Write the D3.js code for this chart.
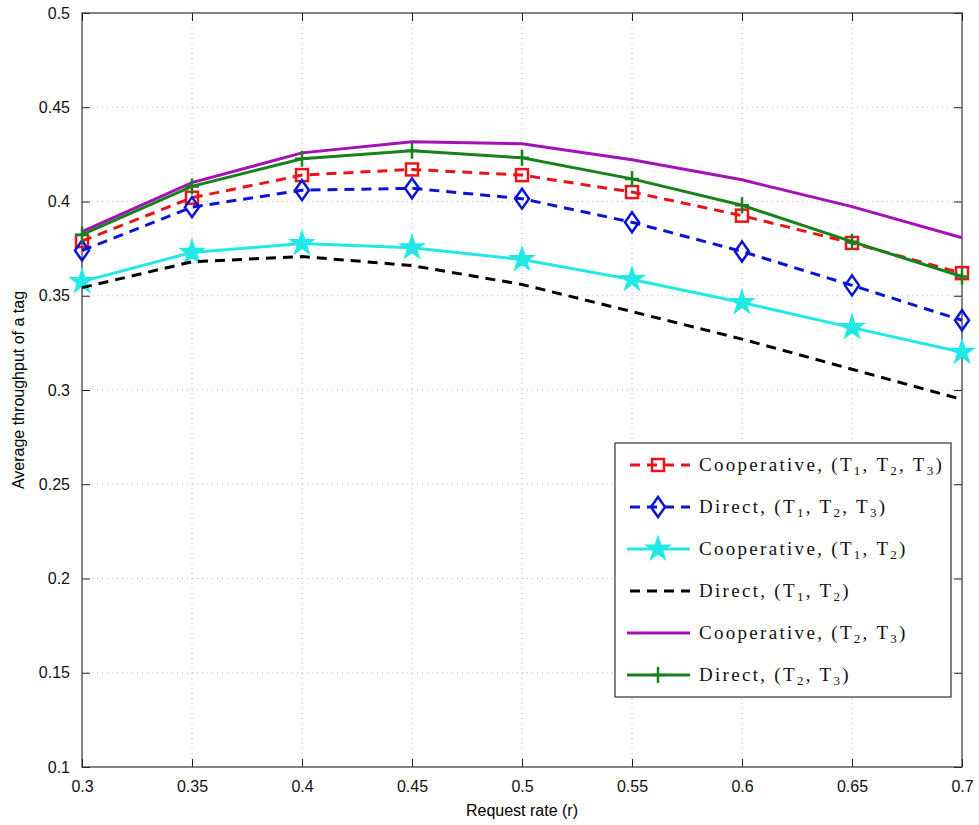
<!DOCTYPE html>
<html>
<head>
<meta charset="utf-8">
<script src="https://cdn.jsdelivr.net/npm/d3@7/dist/d3.min.js"></script>
<style>
  body { margin: 0; background: #fff; }
  svg { display: block; }
</style>
</head>
<body>
<svg id="chart" width="979" height="825"></svg>
<script>
var rates = [0.3, 0.35, 0.4, 0.45, 0.5, 0.55, 0.6, 0.65, 0.7];
var coopT123 = [0.379, 0.402, 0.414, 0.417, 0.414, 0.405, 0.3925, 0.378, 0.362];
var directT123 = [0.374, 0.397, 0.406, 0.407, 0.4015, 0.389, 0.3735, 0.3555, 0.337];
var coopT12 = [0.3575, 0.373, 0.3777, 0.3755, 0.3692, 0.3586, 0.3464, 0.3331, 0.32];
var directT12 = [0.3543, 0.368, 0.3708, 0.366, 0.356, 0.3416, 0.327, 0.311, 0.295];
var coopT23 = [0.384, 0.41, 0.4258, 0.4317, 0.4306, 0.4222, 0.4115, 0.3973, 0.3808];
var directT23 = [0.3824, 0.408, 0.4227, 0.4269, 0.4232, 0.412, 0.398, 0.3787, 0.3602];
var xTicks = [0.3, 0.35, 0.4, 0.45, 0.5, 0.55, 0.6, 0.65, 0.7];
var yTicks = [0.1, 0.15, 0.2, 0.25, 0.3, 0.35, 0.4, 0.45, 0.5];

var series = [
  { name: "Cooperative, ", subs: ["1", "2", "3"], values: coopT123, color: "#e8141a", dash: "10,7", marker: "square" },
  { name: "Direct, ", subs: ["1", "2", "3"], values: directT123, color: "#0a14d2", dash: "10,7", marker: "diamond" },
  { name: "Cooperative, ", subs: ["1", "2"], values: coopT12, color: "#22e8e6", dash: null, marker: "star" },
  { name: "Direct, ", subs: ["1", "2"], values: directT12, color: "#000000", dash: "10,7", marker: null },
  { name: "Cooperative, ", subs: ["2", "3"], values: coopT23, color: "#a511b8", dash: null, marker: null },
  { name: "Direct, ", subs: ["2", "3"], values: directT23, color: "#17821c", dash: null, marker: "plus" }
];

var margin = { left: 82, right: 17, top: 13, bottom: 58 };
var width = 979 - margin.left - margin.right;
var height = 825 - margin.top - margin.bottom;

var svg = d3.select("#chart");
var g = svg.append("g").attr("transform", "translate(" + margin.left + "," + margin.top + ")");

var x = d3.scaleLinear().domain([0.3, 0.7]).range([0, width]);
var y = d3.scaleLinear().domain([0.1, 0.5]).range([height, 0]);

// grid
g.append("g").selectAll("line").data(xTicks.slice(1, -1)).enter().append("line")
  .attr("x1", function (d) { return x(d); }).attr("x2", function (d) { return x(d); })
  .attr("y1", 0).attr("y2", height)
  .attr("stroke", "#bdbdbd").attr("stroke-width", 1).attr("stroke-dasharray", "1,4");
g.append("g").selectAll("line").data(yTicks.slice(1, -1)).enter().append("line")
  .attr("y1", function (d) { return y(d); }).attr("y2", function (d) { return y(d); })
  .attr("x1", 0).attr("x2", width)
  .attr("stroke", "#bdbdbd").attr("stroke-width", 1).attr("stroke-dasharray", "1,4");

// axes with inward ticks
function styleAxis(sel) {
  sel.select(".domain").remove();
  sel.selectAll(".tick line").attr("stroke", "#222").attr("stroke-width", 1);
  sel.selectAll(".tick text").attr("fill", "#111")
    .style("font-family", "Liberation Sans, Arial, sans-serif").style("font-size", "16px");
}
var fmt = function (d) { return String(+d.toFixed(2)); };
g.append("g").attr("transform", "translate(0," + height + ")")
  .call(d3.axisBottom(x).tickValues(xTicks).tickFormat(fmt).tickSizeInner(-8).tickPadding(14))
  .call(styleAxis);
g.append("g")
  .call(d3.axisTop(x).tickValues(xTicks).tickFormat("").tickSizeInner(-8))
  .call(styleAxis);
g.append("g")
  .call(d3.axisLeft(y).tickValues(yTicks).tickFormat(fmt).tickSizeInner(-8).tickPadding(12))
  .call(styleAxis);
g.append("g").attr("transform", "translate(" + width + ",0)")
  .call(d3.axisRight(y).tickValues(yTicks).tickFormat("").tickSizeInner(-8))
  .call(styleAxis);

g.append("rect").attr("width", width).attr("height", height)
  .attr("fill", "none").attr("stroke", "#333").attr("stroke-width", 1.2);

// lines
var line = d3.line().x(function (d, i) { return x(rates[i]); }).y(function (d) { return y(d); });

function drawMarker(sel, type, color) {
  if (type === "square") {
    sel.append("rect").attr("x", -6).attr("y", -6).attr("width", 12).attr("height", 12)
      .attr("fill", "none").attr("stroke", color).attr("stroke-width", 2.5);
  } else if (type === "diamond") {
    sel.append("path").attr("d", "M0,-10L7,0L0,10L-7,0Z")
      .attr("fill", "none").attr("stroke", color).attr("stroke-width", 2.5);
  } else if (type === "star") {
    sel.append("path").attr("d", d3.symbol().type(d3.symbolStar).size(170)())
      .attr("fill", color).attr("stroke", color).attr("stroke-width", 1.5);
  } else if (type === "plus") {
    sel.append("path").attr("d", "M-7,0H7M0,-8V8")
      .attr("fill", "none").attr("stroke", color).attr("stroke-width", 2.5);
  }
}

series.forEach(function (s) {
  g.append("path").datum(s.values)
    .attr("d", line)
    .attr("fill", "none")
    .attr("stroke", s.color)
    .attr("stroke-width", 3)
    .attr("stroke-dasharray", s.dash);
  if (s.marker) {
    g.append("g").selectAll("g").data(s.values).enter().append("g")
      .attr("transform", function (d, i) { return "translate(" + x(rates[i]) + "," + y(d) + ")"; })
      .each(function () { drawMarker(d3.select(this), s.marker, s.color); });
  }
});

// axis labels
svg.append("text")
  .attr("x", margin.left + width / 2).attr("y", 816)
  .attr("text-anchor", "middle")
  .style("font-family", "Liberation Sans, Arial, sans-serif").style("font-size", "16px")
  .text("Request rate (r)");
svg.append("text")
  .attr("transform", "translate(24," + (margin.top + height / 2) + ") rotate(-90)")
  .attr("text-anchor", "middle")
  .style("font-family", "Liberation Sans, Arial, sans-serif").style("font-size", "16px")
  .text("Average throughput of a tag");

// legend
var legend = svg.append("g").attr("transform", "translate(615,443)");
legend.append("rect").attr("width", 336).attr("height", 254)
  .attr("fill", "#fff").attr("stroke", "#333").attr("stroke-width", 1.2);
series.forEach(function (s, i) {
  var row = legend.append("g").attr("transform", "translate(0," + (22 + i * 42) + ")");
  row.append("line").attr("x1", 12).attr("x2", 75).attr("y1", 0).attr("y2", 0)
    .attr("stroke", s.color).attr("stroke-width", 3).attr("stroke-dasharray", s.dash ? "10,7" : null)
    .attr("stroke-dashoffset", s.dash ? -3 : null);
  if (s.marker) {
    var m = row.append("g").attr("transform", "translate(43,0)");
    drawMarker(m, s.marker, s.color);
  }
  var t = row.append("text").attr("x", 84).attr("y", 6)
    .style("font-family", "'Liberation Serif', serif").style("font-size", "19px")
    .style("letter-spacing", "2.3px")
    .attr("fill", "#111");
  t.append("tspan").text(s.name + "(");
  s.subs.forEach(function (sub, j) {
    t.append("tspan").text("T");
    t.append("tspan").attr("dy", 4).style("font-size", "13px").text(sub);
    t.append("tspan").attr("dy", -4).text(j < s.subs.length - 1 ? ", " : ")");
  });
});
</script>
</body>
</html>
